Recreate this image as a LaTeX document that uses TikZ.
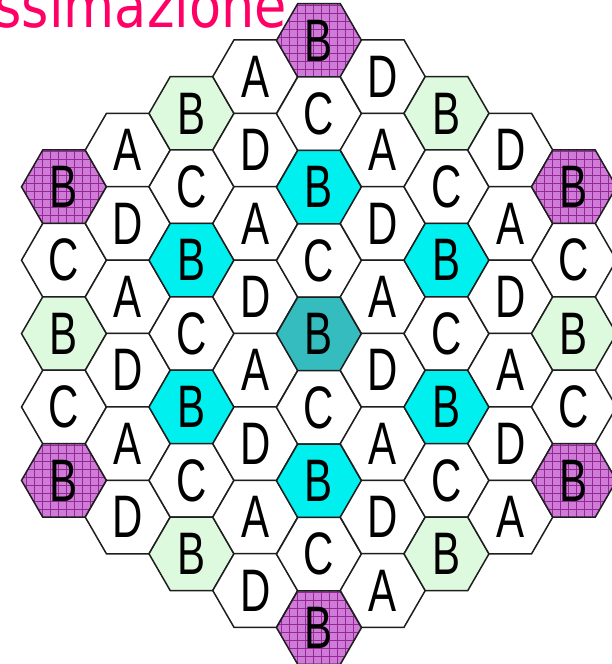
\documentclass[tikz,border=0pt]{standalone}
\usepackage{fontspec}
\usepackage{graphicx}
\usepackage{tikz}
\setmainfont{Liberation Sans}
\newfontfamily\titlefont{DejaVu Sans}
\usetikzlibrary{shapes.geometric}
\definecolor{hexpurple}{RGB}{206,124,216}
\definecolor{hexgridline}{RGB}{150,40,150}
\definecolor{hexgreen}{RGB}{222,250,222}
\definecolor{hexcyan}{RGB}{0,240,240}
\definecolor{hexteal}{RGB}{52,188,190}
\definecolor{hexline}{RGB}{30,30,30}
\definecolor{titlepink}{RGB}{255,0,102}

\newcommand{\cell}[1]{\scalebox{0.7}[1]{#1}}

\begin{document}
\begin{tikzpicture}[
    x=1pt, y=-1pt,
    hex/.style={draw=hexline, line width=1.5pt, regular polygon, regular polygon sides=6,
        minimum size=85pt, inner sep=0pt, outer sep=0pt, font=\fontsize{60}{60}\selectfont},
    hexw/.style={hex, fill=white},
    hexg/.style={hex, fill=hexgreen},
    hexc/.style={hex, fill=hexcyan},
    hext/.style={hex, fill=hexteal},
    hexp/.style={hex, fill=hexpurple, path picture={
        \draw[hexgridline, line width=0.5pt, step=8pt]
            ([shift={(-48pt,-48pt)}]path picture bounding box.center) grid
            ([shift={(48pt,48pt)}]path picture bounding box.center);}}
]
\fill[white, use as bounding box] (0,0) rectangle (612,664);

% Title
\node[anchor=base east, inner sep=0pt, text=titlepink, font=\titlefont\fontsize{61}{61}\selectfont]
    (title) at (287,27) {\scalebox{0.86}[1]{ssimazione}};

% Columns, left to right
\foreach \lbl/\sty [count=\j] in {B/hexp, C/hexw, B/hexg, C/hexw, B/hexp}
    \node[\sty] (h1-\j) at (64, {186.8+73.4*(\j-1)}) {\cell{\lbl}};
\foreach \lbl/\sty [count=\j] in {A/hexw, D/hexw, A/hexw, D/hexw, A/hexw, D/hexw}
    \node[\sty] (h2-\j) at (127.75, {150.1+73.4*(\j-1)}) {\cell{\lbl}};
\foreach \lbl/\sty [count=\j] in {B/hexg, C/hexw, B/hexc, C/hexw, B/hexc, C/hexw, B/hexg}
    \node[\sty] (h3-\j) at (191.5, {113.4+73.4*(\j-1)}) {\cell{\lbl}};
\foreach \lbl/\sty [count=\j] in {A/hexw, D/hexw, A/hexw, D/hexw, A/hexw, D/hexw, A/hexw, D/hexw}
    \node[\sty] (h4-\j) at (255.25, {76.7+73.4*(\j-1)}) {\cell{\lbl}};
\foreach \lbl/\sty [count=\j] in {B/hexp, C/hexw, B/hexc, C/hexw, B/hext, C/hexw, B/hexc, C/hexw, B/hexp}
    \node[\sty] (h5-\j) at (319, {40.4+73.4*(\j-1)}) {\cell{\lbl}};
\foreach \lbl/\sty [count=\j] in {D/hexw, A/hexw, D/hexw, A/hexw, D/hexw, A/hexw, D/hexw, A/hexw}
    \node[\sty] (h6-\j) at (382.75, {76.7+73.4*(\j-1)}) {\cell{\lbl}};
\foreach \lbl/\sty [count=\j] in {B/hexg, C/hexw, B/hexc, C/hexw, B/hexc, C/hexw, B/hexg}
    \node[\sty] (h7-\j) at (446.5, {113.4+73.4*(\j-1)}) {\cell{\lbl}};
\foreach \lbl/\sty [count=\j] in {D/hexw, A/hexw, D/hexw, A/hexw, D/hexw, A/hexw}
    \node[\sty] (h8-\j) at (510.25, {150.1+73.4*(\j-1)}) {\cell{\lbl}};
\foreach \lbl/\sty [count=\j] in {B/hexp, C/hexw, B/hexg, C/hexw, B/hexp}
    \node[\sty] (h9-\j) at (574, {186.8+73.4*(\j-1)}) {\cell{\lbl}};

\end{tikzpicture}
\end{document}
